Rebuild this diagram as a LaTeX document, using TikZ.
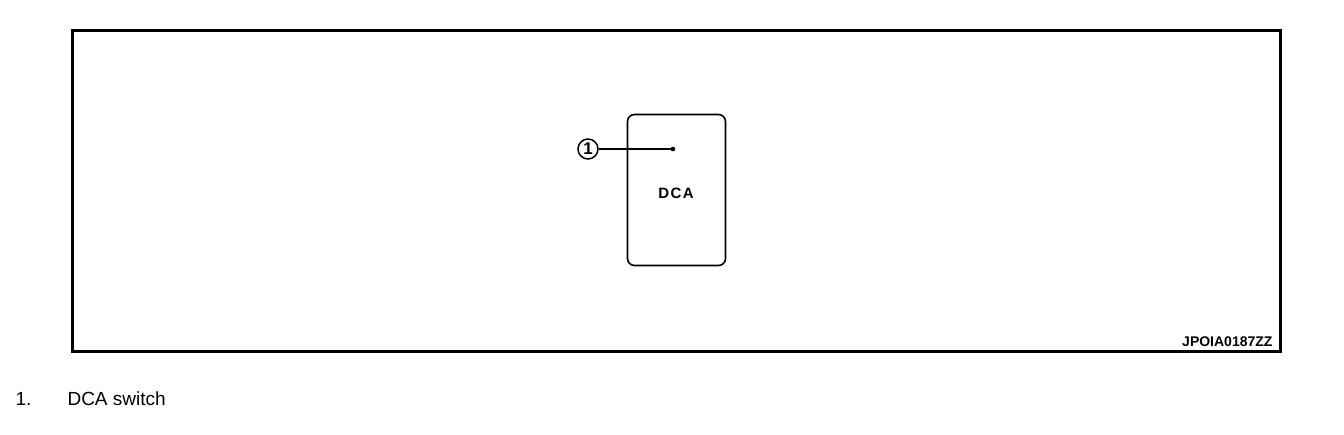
\documentclass[tikz,border=0pt]{standalone}
\usepackage{fontspec}
\setmainfont{Liberation Sans}
\usepackage{tikz}
\usetikzlibrary{calc}

\begin{document}
\begin{tikzpicture}[x=1pt, y=-1pt, font=\fontsize{19}{22}\selectfont]

% styles for the parts of the figure
\tikzstyle{frame} = [draw, line width=3pt]
\tikzstyle{switchbox} = [draw, line width=1.6pt, rounded corners=7pt]
\tikzstyle{callout} = [draw, circle, line width=1.5pt, inner sep=0pt, minimum size=20pt, font=\fontsize{17}{17}\selectfont\bfseries]

% page size
\useasboundingbox (0, 0) rectangle (1344, 434);

% Outer frame
\draw[frame] (72.5, 30.5) rectangle (1280, 351);
\node[anchor=base east, font=\fontsize{14}{14}\selectfont\bfseries] (figid) at (1276, 346) {JPOIA0187ZZ};

% Switch
\draw[switchbox] (627.5, 114.5) rectangle (725.5, 265.5);
\node[font=\fontsize{15}{15}\selectfont\bfseries\addfontfeature{LetterSpace=10}] (dca) at (676, 193) {DCA};

% Callout 1
\coordinate (pt1) at (673, 149);
\node[callout] (c1) at (588, 149) {1};
\draw[line width=1.3pt] (c1.east) -- (pt1);
\fill (pt1) circle (2.3);

% Legend
\node[anchor=base west] (num1) at (12, 405) {1.};
\node[anchor=base west] (leg1) at (64, 405) {DCA switch};

\end{tikzpicture}
\end{document}
